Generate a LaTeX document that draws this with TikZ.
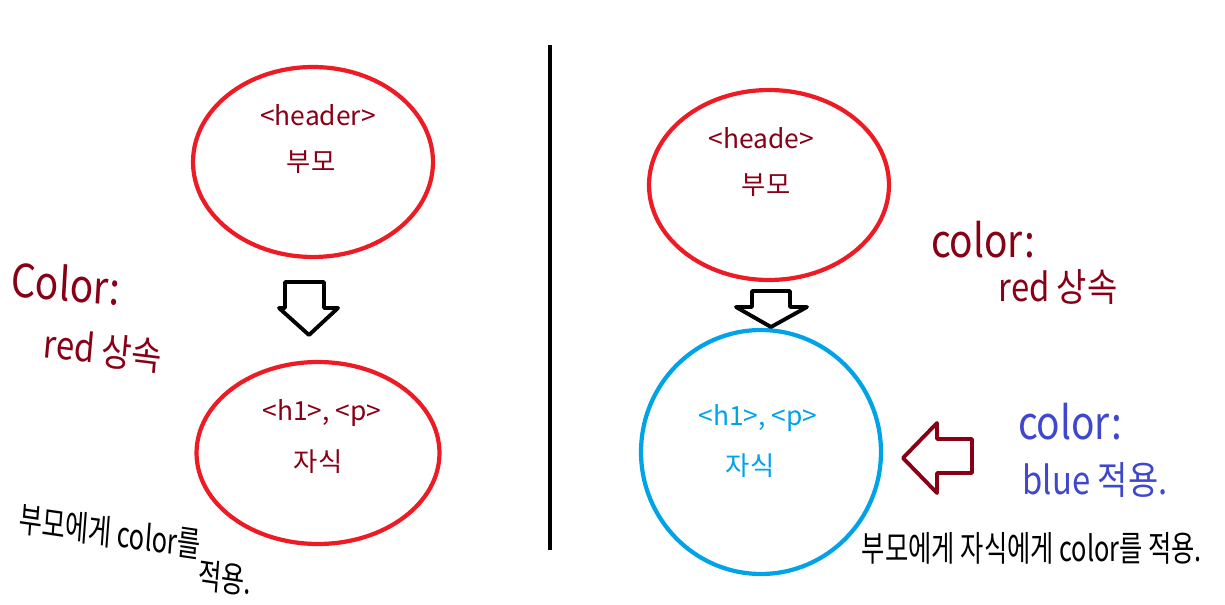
\documentclass[tikz,border=0pt]{standalone}
\usepackage{fontspec}
\setmainfont{Noto Sans CJK KR}
\usetikzlibrary{shapes.geometric}
\definecolor{paintred}{HTML}{ED1C24}
\definecolor{darkred}{HTML}{880015}
\definecolor{skyblue}{HTML}{00A2E8}
\definecolor{inkblue}{HTML}{3F48CC}
\tikzset{
  bubble/.style={draw,ellipse,line width=2.4pt,minimum width=4.8cm,minimum height=3.8cm},
  tag/.style={font=\fontsize{15}{18}\selectfont},
  hand/.style={font=\fontsize{26}{30}\selectfont,xscale=0.85,transform shape},
  note/.style={font=\fontsize{20}{24}\selectfont,xscale=0.72,transform shape}
}
\begin{document}
\begin{tikzpicture}[x=0.02cm,y=-0.02cm]
\useasboundingbox (0,0) rectangle (1225,605);
\draw[line width=2.2pt] (550,45)--(550,550);
% left side
\node[bubble,paintred] (lparent) at (313,162) {};
\node[bubble,paintred,minimum width=4.86cm,minimum height=3.64cm] (lchild) at (318,453) {};
\node[tag,darkred] (lptag) at (318,115) {<header>};
\node[tag,darkred] (lpname) at (311,162) {부모};
\node[tag,darkred] (lctag) at (322,413) {<h1>, <p>};
\node[tag,darkred] (lcname) at (318,462) {자식};
\draw[line width=2.2pt,line join=round] (285,282)--(324,282)--(324,308)--(338,308)--(309,335)--(279,308)--(285,308)--cycle;
\node[hand,darkred,rotate=-4] (lcolor) at (66,283) {Color:};
\node[hand,darkred,rotate=-6,font=\fontsize{22}{26}\selectfont] (lred) at (103,350) {red 상속};
\node[note,rotate=-6] (lnote) at (110,532) {부모에게 color를};
\node[note,rotate=-6] (lnote2) at (225,578) {적용.};
% right side
\node[bubble,paintred] (rparent) at (769,185) {};
\node[bubble,skyblue,minimum width=4.8cm,minimum height=4.88cm] (rchild) at (761,452) {};
\node[tag,darkred] (rptag) at (761,138) {<heade>};
\node[tag,darkred] (rpname) at (766,185) {부모};
\node[tag,skyblue] (rctag) at (758,418) {<h1>, <p>};
\node[tag,skyblue] (rcname) at (750,466) {자식};
\draw[line width=2.2pt,line join=round] (752,291)--(790,291)--(790,307)--(807,307)--(771,327)--(736,307)--(752,307)--cycle;
\draw[darkred,line width=2.2pt,line join=round] (903,458)--(937,423)--(937,439)--(972,439)--(972,473)--(937,473)--(937,493)--cycle;
\node[hand,darkred] (rcolor) at (983,240) {color:};
\node[hand,darkred,font=\fontsize{22}{26}\selectfont] (rred) at (1058,287) {red 상속};
\node[hand,inkblue] (bcolor) at (1070,422) {color:};
\node[hand,inkblue,font=\fontsize{22}{26}\selectfont] (bblue) at (1095,480) {blue 적용.};
\node[note] (rnote) at (1032,548) {부모에게 자식에게 color를 적용.};
\end{tikzpicture}
\end{document}
